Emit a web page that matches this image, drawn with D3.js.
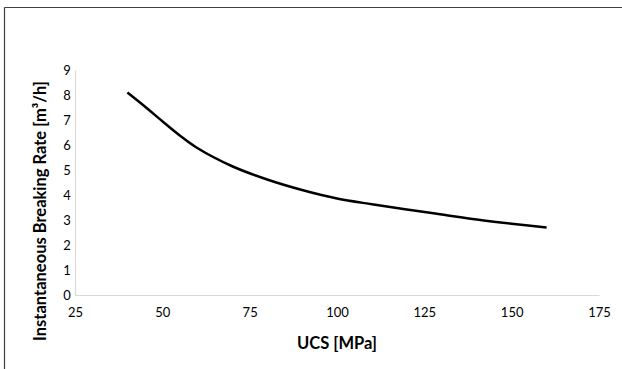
<!DOCTYPE html>
<meta charset="utf-8">
<head>
    <script src="https://d3js.org/d3.v7.min.js"></script>
    <title>UCS vs breaking rate</title>
</head>
<body style="margin:0;background:#fff">
    <div id="chart"></div>
</body>
<style>
    body {
        font-family: 'Lato', 'Open Sans', sans-serif;
    }
    .tick text {
        font-size: 13px;
        fill: #000;
    }
</style>
<script>
    // values
    var ucs = [40, 45, 50, 55, 60, 70, 80, 90, 100, 110, 120, 130, 140, 150, 160];
    var rate = [8.1, 7.54, 6.95, 6.38, 5.88, 5.15, 4.62, 4.2, 3.86, 3.63, 3.42, 3.22, 3.02, 2.85, 2.7];
    var xTicks = [25, 50, 75, 100, 125, 150, 175];
    var yTicks = [0, 1, 2, 3, 4, 5, 6, 7, 8, 9];

    var W = 622, H = 369;
    var margin = {top: 70, left: 75, right: 23, bottom: 74};

    var svg = d3.select("#chart")
        .append("svg")
        .attr("width", W)
        .attr("height", H);

    // frame lines (top and left only show)
    svg.append("line").attr("x1", 4.5).attr("x2", W).attr("y1", 7.5).attr("y2", 7.5)
        .attr("stroke", "#404040").attr("stroke-width", 1.2);
    svg.append("line").attr("x1", 4.5).attr("x2", 4.5).attr("y1", 7.5).attr("y2", H)
        .attr("stroke", "#404040").attr("stroke-width", 1.2);

    var x = d3.scaleLinear()
        .domain([25, 175])
        .range([margin.left, W - margin.right]);
    var y = d3.scaleLinear()
        .domain([0, 9])
        .range([H - margin.bottom, margin.top]);

    // X axis
    var gx = svg.append("g")
        .attr("transform", "translate(0," + y(0) + ")")
        .call(d3.axisBottom(x).tickValues(xTicks).tickSize(0).tickPadding(13));
    gx.select(".domain").attr("stroke", "#d9d9d9").attr("stroke-width", 1.2);

    // Y axis
    var gy = svg.append("g")
        .attr("transform", "translate(" + x(25) + ",0)")
        .call(d3.axisLeft(y).tickValues(yTicks).tickSize(0).tickPadding(12));
    gy.select(".domain").attr("stroke", "#d9d9d9").attr("stroke-width", 1.2);
    gy.selectAll(".tick text").attr("text-anchor", "middle").attr("dx", "0.3em");

    svg.selectAll(".tick text").style("font-family", "Lato, 'Open Sans', sans-serif");

    // axis titles
    svg.append("text")
        .attr("x", (x(25) + x(175)) / 2)
        .attr("y", 349)
        .attr("text-anchor", "middle")
        .style("font-size", "16.5px")
        .style("font-weight", "bold")
        .text("UCS [MPa]");

    svg.append("text")
        .attr("transform", "translate(46,211) rotate(-90)")
        .attr("text-anchor", "middle")
        .style("font-size", "16.5px")
        .style("font-weight", "bold")
        .text("Instantaneous Breaking Rate [m³/h]");

    // the curve
    var line = d3.line()
        .x(function (d, i) { return x(ucs[i]); })
        .y(function (d) { return y(d); })
        .curve(d3.curveCatmullRom.alpha(0.5));

    svg.append("path")
        .datum(rate)
        .attr("fill", "none")
        .attr("stroke", "#000")
        .attr("stroke-width", 2.5)
        .attr("d", line);
</script>
